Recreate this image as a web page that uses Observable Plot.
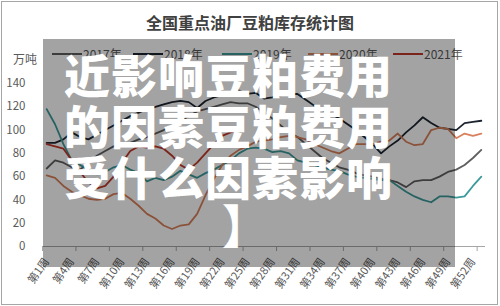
<!DOCTYPE html>
<html><head><meta charset="utf-8">
<script src="https://cdn.jsdelivr.net/npm/d3@7"></script>
<script src="https://cdn.jsdelivr.net/npm/@observablehq/plot@0.6"></script>
<style>
html,body{margin:0;padding:0;background:#fff;}
#wrap{position:relative;width:500px;height:306px;overflow:hidden;font-family:"Noto Sans CJK SC","Noto Sans",sans-serif;}
#frame{position:absolute;left:1px;top:1px;width:495px;height:302px;border:1px solid #a6a6a6;}
#title{position:absolute;left:0;top:10px;width:500px;text-align:center;font-size:16px;font-weight:600;color:#404040;}
#unit{position:absolute;left:13px;top:50px;font-size:12px;color:#595959;}
.lg{position:absolute;top:45px;font-size:12px;color:#595959;display:flex;align-items:center;}
.lg i{display:inline-block;width:30px;height:2px;margin-right:1px;}
#plot{position:absolute;left:0;top:0;}
#shade{position:absolute;left:43px;top:39px;width:412px;height:228px;background:rgba(0,0,0,0.36);}
.big{position:absolute;color:#fff;font-size:46px;font-weight:900;letter-spacing:1px;line-height:46px;white-space:nowrap;font-family:"Noto Sans CJK SC",sans-serif;}
</style></head>
<body><div id="wrap">
<div id="frame"></div>
<div id="title">全国重点油厂豆粕库存统计图</div>
<div id="plot"></div>
<div id="unit">万吨</div>
<div id="legend"></div>
<div id="shade"></div>
<div class="big" style="left:64px;top:50px">近影响豆粕费用</div>
<div class="big" style="left:64px;top:101px">的因素豆粕费用</div>
<div class="big" style="left:64px;top:152px">受什么因素影响</div>
<div class="big" style="left:222px;top:200px">】</div>
</div>
<script>
const weeks = [1,2,3,4,5,6,7,8,9,10,11,12,13,14,15,16,17,18,19,20,21,22,23,24,25,26,27,28,29,30,31,32,33,34,35,36,37,38,39,40,41,42,43,44,45,46,47,48,49,50,51,52,53];
const seriesNames = ["2017年","2018年","2019年","2020年","2021年"];
const seriesColors = ["#5f5f5f","#1c2430","#3d9a9a","#d9805c","#c0392b"];
const y2017 = [67,74,72,68,66,72,78,82,86,88,89,92,94,97,100,104,108,112,116,118,120,122,124,123,123,120,115,110,104,98,94,88,82,76,72,68,66,63,61,60,58,57,55,51,56,57,57,60,64,66,70,76,83];
const y2018 = [89,89,92,98,94,92,96,100,104,108,112,115,118,120,122,124,125,124,119,125,128,130,132,134,131,132,127,128,130,131,131,126,121,117,114,110,105,100,94,88,80,86,91,98,104,111,106,102,101,100,106,107,108];
const y2019 = [118,105,88,74,70,66,62,64,68,70,66,63,56,59,57,60,65,62,59,63,66,70,74,80,84,85,84,81,82,80,74,72,70,68,66,65,62,60,59,58,57,57,52,47,43,40,38,43,43,42,43,52,60];
const y2020 = [61,59,52,47,44,41,40,41,45,46,41,35,28,24,18,15,18,19,28,44,58,70,78,83,86,90,91,92,94,95,94,92,88,85,82,80,84,88,88,88,90,91,97,90,87,88,100,102,101,93,97,95,97];
const y2021 = [88,86,84,74,64,55,50,52,60,72,82,86,85,86,84,78,70,66,72,80,88,95,98,100];
const yTicks = [0,20,40,60,80,100,120,140];
const labelWeeks = [1,4,7,10,13,16,19,22,25,28,31,34,37,40,43,46,49,52];
const labelTexts = ["第1周","第4周","第7周","第10周","第13周","第16周","第19周","第22周","第25周","第28周","第31周","第34周","第37周","第40周","第43周","第46周","第49周","第52周"];
const tickBounds = [0.5,4.5,8.5,12.5,16.5,20.5,24.5,28.5,32.5,36.5,40.5,44.5,48.5,52.5];
const legendX = [52,133,222,308,393];

const allSeries = [y2017,y2018,y2019,y2020,y2021];
const rows = [];
allSeries.forEach((vals,si)=>vals.forEach((v,i)=>rows.push({week:weeks[i],value:v,series:seriesNames[si]})));
const labelMap = new Map(labelWeeks.map((w,i)=>[w,labelTexts[i]]));

const chart = Plot.plot({
  width:500,height:306,
  marginLeft:42,marginRight:15,marginTop:83,marginBottom:60,
  style:{fontFamily:'"Noto Sans CJK SC","Noto Sans",sans-serif',background:"transparent"},
  x:{type:"linear",domain:[0.5,53.5]},
  y:{domain:[0,140]},
  color:{domain:seriesNames,range:seriesColors},
  marks:[
    Plot.axisY({ticks:yTicks,tickSize:0,tickPadding:17,fontSize:11.5,fill:"#595959",label:null}),
    Plot.ruleY([0],{stroke:"#a6a6a6",strokeWidth:1}),
    Plot.axisX({ticks:tickBounds,tickSize:5,stroke:"#a6a6a6",tickFormat:()=>"",label:null}),
    Plot.axisX({ticks:labelWeeks,tickSize:0,tickPadding:13,tickRotate:-55,fontSize:11,fill:"#595959",tickFormat:d=>labelMap.get(d),label:null}),
    Plot.line(rows,{x:"week",y:"value",z:"series",stroke:"series",strokeWidth:1.8})
  ]
});
document.getElementById("plot").appendChild(chart);

const lg = document.getElementById("legend");
seriesNames.forEach((n,i)=>{
  const d=document.createElement("div");d.className="lg";d.style.left=legendX[i]+"px";
  d.innerHTML=`<i style="background:${seriesColors[i]}"></i>${n}`;lg.appendChild(d);
});
</script>
</body></html>
